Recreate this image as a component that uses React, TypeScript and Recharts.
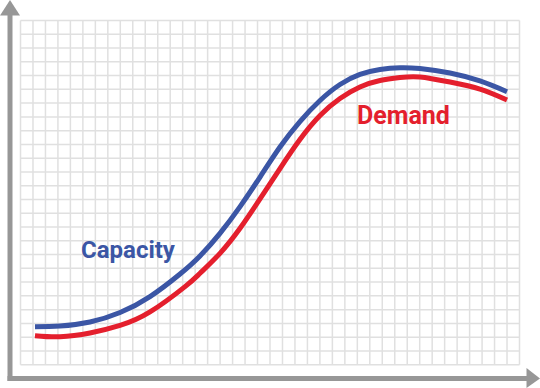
import React from "react";
import { LineChart, Line, XAxis, YAxis, ReferenceLine } from "recharts";

const capacityX = [11.6, 31.7, 55.7, 79.8, 103.8, 127.9, 143.9, 159.9, 176.0, 192.0, 208.0, 224.0, 240.1, 256.1, 272.1, 288.2, 304.2, 320.2, 344.3, 368.3, 390.0];
const capacityY = [27.6, 28.1, 31.0, 37.9, 49.5, 65.9, 79.0, 95.4, 114.8, 136.3, 158.1, 176.6, 191.9, 203.5, 210.8, 214.4, 215.7, 215.1, 211.9, 206.1, 198.3];
const demandX = [11.6, 31.7, 55.7, 79.8, 103.8, 131.9, 143.9, 159.9, 176.0, 192.0, 208.0, 224.0, 240.1, 256.1, 272.1, 288.2, 304.2, 320.2, 344.3, 368.3, 390.0];
const demandY = [21.1, 20.3, 23.0, 28.5, 38.3, 56.7, 66.4, 80.9, 99.1, 120.4, 142.5, 163.6, 181.0, 193.3, 201.7, 206.4, 208.6, 209.0, 205.3, 200.2, 192.3];

const xTicks = Array.from({ length: 41 }, (_, i) => i * 10);
const yTicks = Array.from({ length: 26 }, (_, i) => i * 10);

const capacityData = capacityX.map((x, i) => ({ x, capacity: capacityY[i] }));
const demandData = demandX.map((x, i) => ({ x, demand: demandY[i] }));

const BLUE = "#3b56a5";
const RED = "#e41f2d";
const GRAY = "#979797";
const GRID = "#e0e0e0";

export default function App() {
  return (
    <div style={{ position: "absolute", left: 0, top: 0, width: 540, height: 388, background: "#fff" }}>
      <LineChart
        width={540}
        height={388}
        margin={{ top: 20.5, right: 20.5, bottom: 23.3, left: 20.5 }}
      >
        <XAxis type="number" dataKey="x" domain={[0, 400]} ticks={xTicks} allowDataOverflow hide />
        <YAxis type="number" domain={[0, 250]} ticks={yTicks} allowDataOverflow hide />
        {xTicks.map((v) => (
          <ReferenceLine key={"vx" + v} x={v} stroke={GRID} strokeWidth={1.5} />
        ))}
        {yTicks.map((v) => (
          <ReferenceLine key={"hy" + v} y={v} stroke={GRID} strokeWidth={1.5} />
        ))}
        <Line data={demandData} type="natural" dataKey="demand" stroke={RED} strokeWidth={5} dot={false} isAnimationActive={false} />
        <Line data={capacityData} type="natural" dataKey="capacity" stroke={BLUE} strokeWidth={5} dot={false} isAnimationActive={false} />
      </LineChart>
      <svg width={540} height={388} style={{ position: "absolute", left: 0, top: 0, pointerEvents: "none" }}>
        <rect x={7.5} y={12} width={5} height={369} fill={GRAY} />
        <polygon points="0,15.5 20,15.5 10,0" fill={GRAY} />
        <rect x={7.5} y={376} width={521} height={5} fill={GRAY} />
        <polygon points="526.5,368 526.5,388 540,378.5" fill={GRAY} />
        <text x={81} y={257.5} fill={BLUE} fontFamily="Roboto" fontWeight={700} fontSize={24}>Capacity</text>
        <text x={357} y={123.5} fill={RED} fontFamily="Roboto" fontWeight={700} fontSize={25}>Demand</text>
      </svg>
    </div>
  );
}
